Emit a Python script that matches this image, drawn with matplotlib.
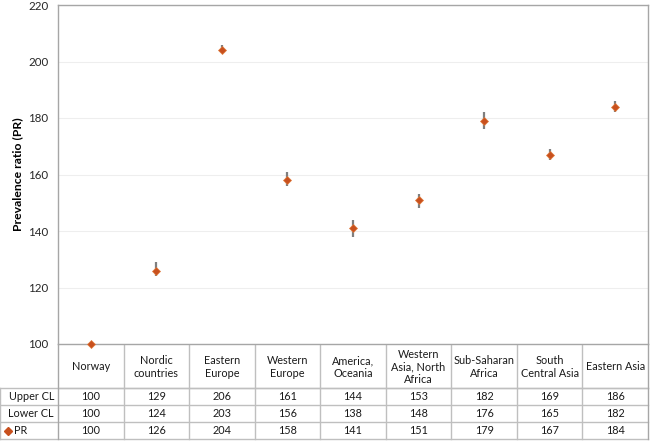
import matplotlib
matplotlib.use("Agg")
import matplotlib.pyplot as plt

plt.rcParams['font.family'] = ['Lato', 'DejaVu Sans']

categories = ["Norway", "Nordic\ncountries", "Eastern\nEurope", "Western\nEurope",
              "America,\nOceania", "Western\nAsia, North\nAfrica", "Sub-Saharan\nAfrica",
              "South\nCentral Asia", "Eastern Asia"]
upper_cl = [100, 129, 206, 161, 144, 153, 182, 169, 186]
lower_cl = [100, 124, 203, 156, 138, 148, 176, 165, 182]
pr = [100, 126, 204, 158, 141, 151, 179, 167, 184]
yticks = [100, 120, 140, 160, 180, 200, 220]

W, H = 655, 442
fig = plt.figure(figsize=(W / 100, H / 100), dpi=100)

x0, x1 = 58, 648
ytop, ybot = 5, 344
ax = fig.add_axes([x0 / W, 1 - ybot / H, (x1 - x0) / W, (ybot - ytop) / H])
n = len(categories)
xs = list(range(n))
ax.set_xlim(-0.5, n - 0.5)
ax.set_ylim(100, 220)
ax.set_yticks(yticks)
ax.set_yticklabels([str(v) for v in yticks], fontsize=8.3, color='#262626')
ax.set_xticks([])
ax.grid(axis='y', color='#eeeeee', linewidth=0.8)
ax.set_axisbelow(True)
for s in ax.spines.values():
    s.set_color('#a6a6a6')
    s.set_linewidth(1)
ax.tick_params(axis='y', length=0, pad=7)
ax.set_ylabel("Prevalence ratio (PR)", fontsize=8.8, fontweight='bold')
ax.yaxis.set_label_coords((23 - x0) / (x1 - x0), 0.5)

err_lo = [p - l for p, l in zip(pr, lower_cl)]
err_hi = [u - p for p, u in zip(pr, upper_cl)]
ax.errorbar(xs, pr, yerr=[err_lo, err_hi], fmt='none', ecolor='#7f7f7f',
            elinewidth=1.6, capsize=0, zorder=3)
ax.plot(xs, pr, linestyle='none', marker='D', markersize=4.2,
        color='#c8501e', markeredgecolor='#e07a3a', markeredgewidth=0.5,
        zorder=4, clip_on=False)

# Table axes in pixel coordinates
tab = fig.add_axes([0, 0, 1, 1], zorder=-1)
tab.set_xlim(0, W)
tab.set_ylim(H, 0)
tab.axis('off')
lc = '#bfbfbf'
colw = (x1 - x0) / n
hdr_bot = 388
rows_y = [388, 405, 422, 439]
tab.plot([x0, x1], [hdr_bot, hdr_bot], color=lc, lw=1)
for yy in rows_y:
    tab.plot([0, x1], [yy, yy], color=lc, lw=1)
for i in range(n + 1):
    xx = x0 + i * colw
    tab.plot([xx, xx], [ybot, rows_y[-1]], color=lc if 0 < i < n else '#a6a6a6', lw=1)
tab.plot([0, 0], [rows_y[0], rows_y[-1]], color=lc, lw=1)

fs = 7.8
for i, c in enumerate(categories):
    cx = x0 + (i + 0.5) * colw
    tab.text(cx, (ybot + hdr_bot) / 2 + 1, c, ha='center', va='center',
             fontsize=fs, linespacing=1.2, color='#1a1a1a')

row_labels = ["Upper CL", "Lower CL", "PR"]
row_vals = [upper_cl, lower_cl, pr]
for r, (lab, vals) in enumerate(zip(row_labels, row_vals)):
    cy = (rows_y[r] + rows_y[r + 1]) / 2
    if lab == "PR":
        tab.text(14, cy, lab, ha='left', va='center', fontsize=fs, color='#1a1a1a')
        tab.plot([8], [cy], marker='D', markersize=3.8, color='#c8501e', linestyle='none')
    else:
        tab.text(x0 - 4, cy, lab, ha='right', va='center', fontsize=fs, color='#1a1a1a')
    for i, v in enumerate(vals):
        cx = x0 + (i + 0.5) * colw
        tab.text(cx, cy, str(v), ha='center', va='center', fontsize=fs, color='#1a1a1a')

fig.savefig("out.png", dpi=100)
